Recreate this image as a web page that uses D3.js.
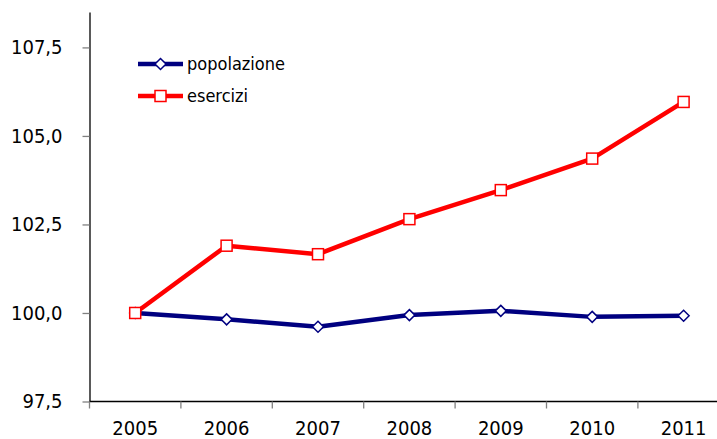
<!DOCTYPE html>
<html>
<head>
<meta charset="utf-8">
<script src="https://cdn.jsdelivr.net/npm/d3@7"></script>
<style>
  body { margin: 0; background: #fff; }
  svg text { font-family: "DejaVu Sans Condensed", "DejaVu Sans", sans-serif; font-stretch: condensed; fill: #000; }
</style>
</head>
<body>
<div id="chart"></div>
<script>
const years = ["2005", "2006", "2007", "2008", "2009", "2010", "2011"];
const popolazione = [100.0, 99.82, 99.61, 99.94, 100.06, 99.89, 99.92];
const esercizi = [100.0, 101.90, 101.66, 102.65, 103.47, 104.36, 105.96];
const yTicks = [97.5, 100.0, 102.5, 105.0, 107.5];

const width = 717, height = 439;
const svg = d3.select("#chart").append("svg")
  .attr("width", width)
  .attr("height", height);

// area del grafico
const plotLeft = 89.5, plotBottom = 401.5, plotTop = 12;
const x = d3.scaleBand().domain(years).range([plotLeft, plotLeft + 7 * 91.4]);
const y = d3.scaleLinear().domain([97.5, 108.5]).range([plotBottom, plotTop]);
const cx = (d) => x(d) + x.bandwidth() / 2;

// asse Y
const axisY = svg.append("g").attr("transform", `translate(${plotLeft},0)`)
  .call(d3.axisLeft(y).tickValues(yTicks).tickSize(7).tickSizeOuter(0).tickPadding(20)
    .tickFormat((d) => d3.format(".1f")(d).replace(".", ",")));
axisY.select(".domain").attr("stroke", "#000").attr("stroke-width", 1.3);
axisY.selectAll(".tick line").attr("stroke", "#808080").attr("stroke-width", 1.3);
axisY.selectAll("text").style("font-size", "20px");

// asse X: tacche tra le categorie, etichette al centro
const axisX = svg.append("g");
axisX.append("line")
  .attr("x1", plotLeft).attr("x2", width)
  .attr("y1", plotBottom).attr("y2", plotBottom)
  .attr("stroke", "#000").attr("stroke-width", 1.3);
const bounds = years.map((d) => x(d)).concat([x.range()[1]]);
axisX.selectAll("line.tk").data(bounds).join("line")
  .attr("class", "tk")
  .attr("x1", (d) => d).attr("x2", (d) => d)
  .attr("y1", plotBottom).attr("y2", plotBottom + 7)
  .attr("stroke", "#808080").attr("stroke-width", 1.3);
axisX.selectAll("text").data(years).join("text")
  .attr("x", (d) => cx(d))
  .attr("y", 435)
  .attr("text-anchor", "middle")
  .style("font-size", "20px")
  .text((d) => d);

const line = d3.line().x((d, i) => cx(years[i])).y((d) => y(d));
const diamond = (px, py, r) => `M${px},${py - r}L${px + r},${py}L${px},${py + r}L${px - r},${py}Z`;

// popolazione
svg.append("path").datum(popolazione)
  .attr("d", line).attr("fill", "none")
  .attr("stroke", "#000080").attr("stroke-width", 4.5).attr("stroke-linejoin", "round");
svg.selectAll("path.pop").data(popolazione).join("path")
  .attr("class", "pop")
  .attr("d", (d, i) => diamond(cx(years[i]), y(d), 5.5))
  .attr("fill", "#fff").attr("stroke", "#000080").attr("stroke-width", 1.5);

// esercizi (sopra)
svg.append("path").datum(esercizi)
  .attr("d", line).attr("fill", "none")
  .attr("stroke", "#ff0000").attr("stroke-width", 4.5).attr("stroke-linejoin", "round");
svg.selectAll("rect.es").data(esercizi).join("rect")
  .attr("class", "es")
  .attr("x", (d, i) => cx(years[i]) - 5.5)
  .attr("y", (d) => y(d) - 5.5)
  .attr("width", 11).attr("height", 11)
  .attr("fill", "#fff").attr("stroke", "#ff0000").attr("stroke-width", 1.5);

// legenda
const legend = svg.append("g");
const items = [
  { name: "popolazione", color: "#000080", mark: "diamond", yy: 64 },
  { name: "esercizi", color: "#ff0000", mark: "square", yy: 96 },
];
items.forEach((it) => {
  legend.append("line")
    .attr("x1", 138).attr("x2", 183).attr("y1", it.yy).attr("y2", it.yy)
    .attr("stroke", it.color).attr("stroke-width", 4.5);
  if (it.mark === "diamond") {
    legend.append("path").attr("d", diamond(160.5, it.yy, 5.5))
      .attr("fill", "#fff").attr("stroke", it.color).attr("stroke-width", 1.5);
  } else {
    legend.append("rect").attr("x", 155).attr("y", it.yy - 5.5).attr("width", 11).attr("height", 11)
      .attr("fill", "#fff").attr("stroke", it.color).attr("stroke-width", 1.5);
  }
  legend.append("text")
    .attr("x", 187).attr("y", it.yy + 6)
    .style("font-size", "18px")
    .text(it.name);
});
</script>
</body>
</html>
